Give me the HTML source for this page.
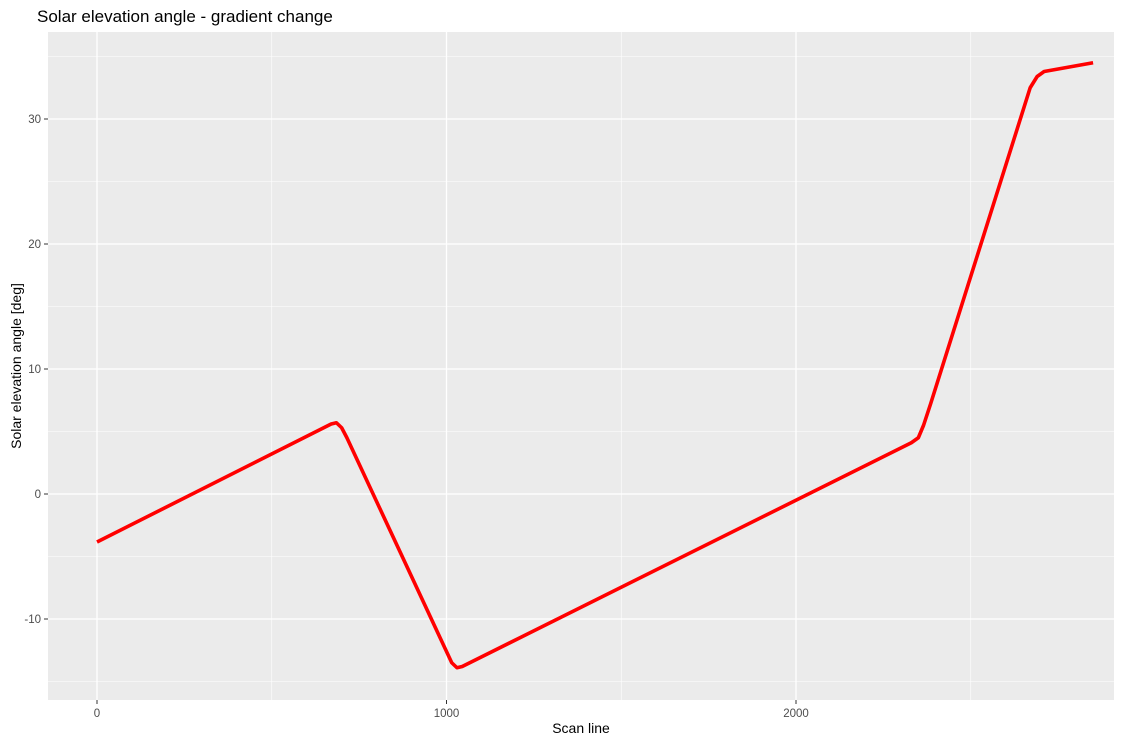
<!DOCTYPE html>
<html><head><meta charset="utf-8"><style>
body{margin:0;background:#fff;font-family:"Liberation Sans",Arial,sans-serif;}
svg text{font-family:"Liberation Sans",Arial,sans-serif;}
</style></head><body>
<svg id="chart" width="1122" height="743">
<text x="37" y="22" font-size="17" fill="#000">Solar elevation angle - gradient change</text>
<rect x="48" y="32" width="1066" height="668" fill="#ebebeb"/>
<g id="grid"></g><g id="ticks"></g>
<path id="line" fill="none" stroke="#ff0000" stroke-width="3.6" stroke-linejoin="round"/>
<text x="581" y="733" font-size="14" text-anchor="middle" fill="#000">Scan line</text>
<text transform="translate(21,366) rotate(-90)" font-size="14" text-anchor="middle" fill="#000">Solar elevation angle [deg]</text>
</svg>
<script>
const xs=[0,670,685,700,715,1015,1030,1045,2330,2350,2365,2385,2670,2690,2710,2850];
const ys=[-3.84,5.6,5.7,5.3,4.5,-13.5,-13.9,-13.8,4.1,4.5,5.5,7.2,32.5,33.4,33.8,34.5];
const xTicks=[0,1000,2000];
const xMinor=[500,1500,2500];
const yTicks=[-10,0,10,20,30];
const yMinor=[-15,-5,5,15,25,35];
const L=48,R=1114,T=32,B=700;
const sx=v=>97+v*0.3495;
const sy=v=>494-v*12.5;
const NS="http://www.w3.org/2000/svg";
const grid=document.getElementById('grid'),tk=document.getElementById('ticks');
function ln(p,x1,y1,x2,y2,c,w){const e=document.createElementNS(NS,'line');e.setAttribute('x1',x1);e.setAttribute('y1',y1);e.setAttribute('x2',x2);e.setAttribute('y2',y2);e.setAttribute('stroke',c);e.setAttribute('stroke-width',w);p.appendChild(e);return e;}
function tx(x,y,s,a){const e=document.createElementNS(NS,'text');e.setAttribute('x',x);e.setAttribute('y',y);e.setAttribute('font-size',11.5);e.setAttribute('fill','#4d4d4d');e.setAttribute('text-anchor',a);e.textContent=s;tk.appendChild(e);return e;}
xMinor.forEach(v=>{const e=ln(grid,sx(v),T,sx(v),B,'#fff',0.6);

});
yMinor.forEach(v=>{if(sy(v)<T)return;const e=ln(grid,L,sy(v),R,sy(v),'#fff',0.6);

});
xTicks.forEach(v=>{const e=ln(grid,sx(v),T,sx(v),B,'#fff',1.3);


ln(tk,sx(v),B,sx(v),B+4,'#333',1);
const t=tx(sx(v),B+17,String(v),'middle');

});
yTicks.forEach(v=>{const e=ln(grid,L,sy(v),R,sy(v),'#fff',1.3);


ln(tk,L-4,sy(v),L,sy(v),'#333',1);
const t=tx(L-7,sy(v)+4,String(v),'end');

});
document.getElementById('line').setAttribute('d',xs.map((x,i)=>(i?'L':'M')+sx(x)+','+sy(ys[i])).join(''));
</script>
</body></html>
